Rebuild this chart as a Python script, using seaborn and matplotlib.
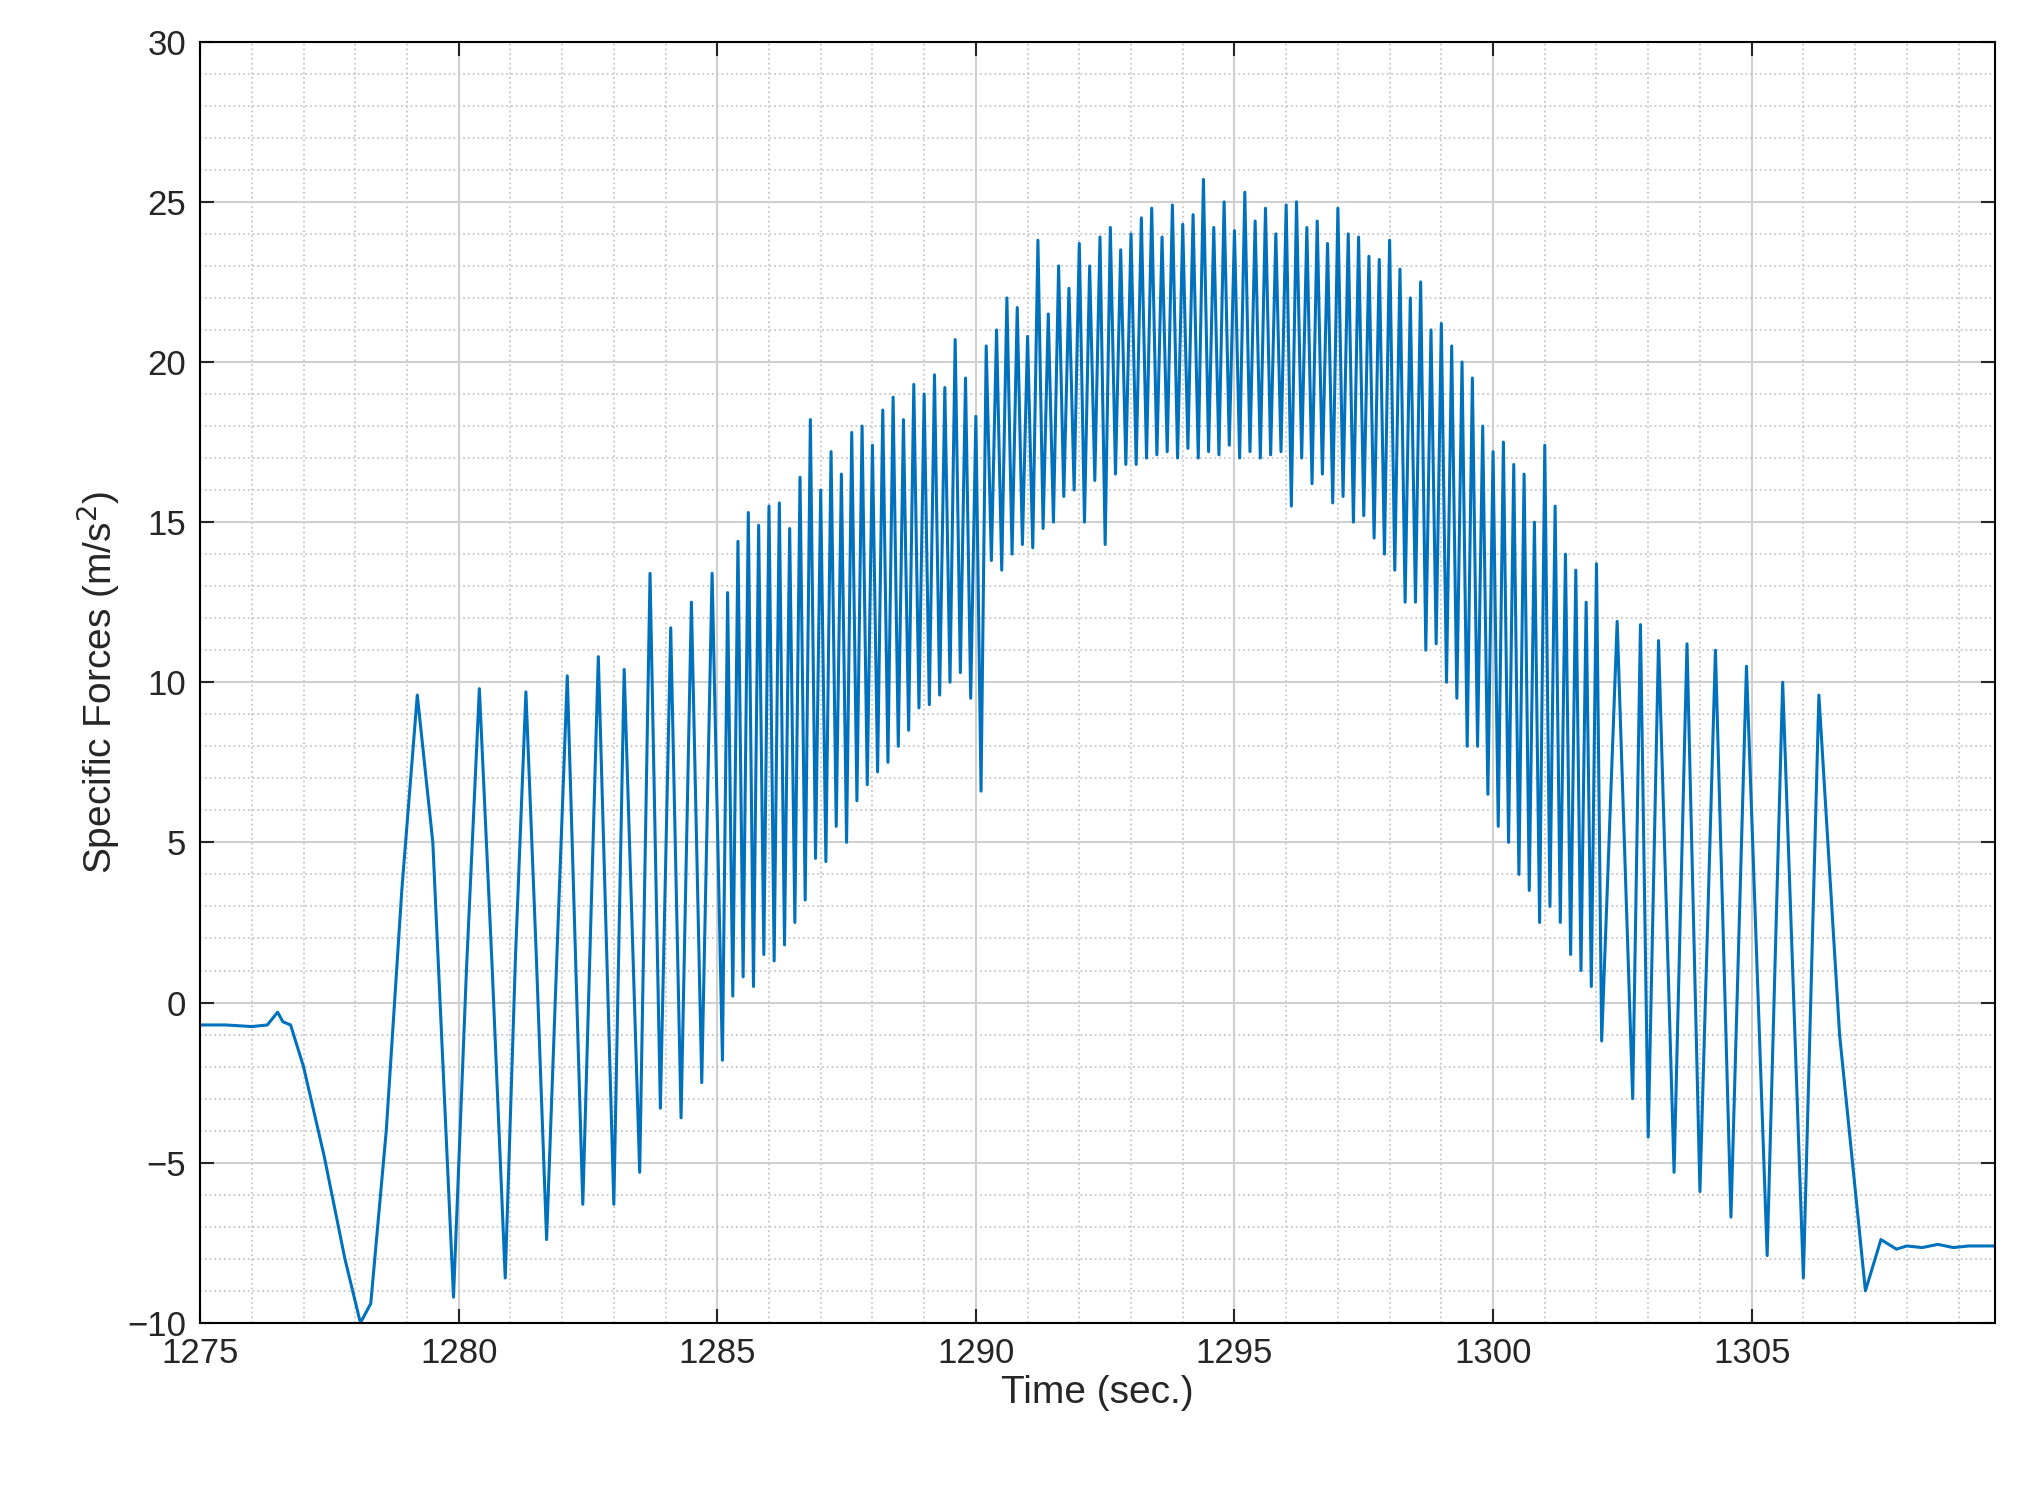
import numpy as np
import pandas as pd
import matplotlib
matplotlib.use("Agg")
import matplotlib.pyplot as plt
import seaborn as sns
from matplotlib.ticker import MultipleLocator

# Start segment (time, value)
start_t = [1275.0, 1275.5, 1276.0, 1276.3, 1276.5, 1276.6, 1276.75, 1277.0, 1277.4, 1277.8, 1278.1,
           1278.3, 1278.6, 1278.9, 1279.2, 1279.5, 1279.9, 1280.15, 1280.4, 1280.65, 1280.9, 1281.1,
           1281.3, 1281.5, 1281.7, 1281.9, 1282.1, 1282.4, 1282.7, 1283.0, 1283.2, 1283.5, 1283.7,
           1283.9, 1284.1, 1284.3, 1284.5, 1284.7, 1284.9, 1285.1]
start_v = [-0.7, -0.7, -0.75, -0.7, -0.3, -0.6, -0.7, -2.0, -4.8, -8.0, -10.0,
           -9.4, -4.0, 3.5, 9.6, 5.0, -9.2, 1.0, 9.8, 1.0, -8.6, 1.5,
           9.7, 1.5, -7.4, 1.5, 10.2, -6.3, 10.8, -6.3, 10.4, -5.3, 13.4,
           -3.3, 11.7, -3.6, 12.5, -2.5, 13.4, -1.8]

# Middle dense section: peaks at 1285.2 .. 1302.0 step 0.2, troughs 0.1 later
peak_t0, step = 1285.2, 0.2
peaks = [12.8, 14.4, 15.3, 14.9, 15.5, 15.6, 14.8, 16.4, 18.2, 16.0,
         17.2, 16.5, 17.8, 18.0, 17.4, 18.5, 18.9, 18.2, 19.3, 19.0,
         19.6, 19.2, 20.7, 19.5, 18.3, 20.5, 21.0, 22.0, 21.7, 20.8,
         23.8, 21.5, 23.0, 22.3, 23.7, 23.0, 23.9, 24.2, 23.5, 24.0,
         24.5, 24.8, 23.9, 24.9, 24.3, 24.6, 25.7, 24.2, 25.0, 24.1,
         25.3, 24.4, 24.8, 24.0, 24.9, 25.0, 24.2, 24.4, 23.7, 24.8,
         24.0, 23.9, 23.3, 23.2, 23.8, 22.9, 22.0, 22.5, 21.0, 21.2,
         20.5, 20.0, 19.5, 18.0, 17.2, 17.5, 16.8, 16.5, 15.0, 17.4,
         15.5, 14.0, 13.5, 12.5, 13.7]
troughs = [0.2, 0.8, 0.5, 1.5, 1.3, 1.8, 2.5, 3.2, 4.5, 4.4,
           5.5, 5.0, 6.3, 6.8, 7.2, 7.5, 8.0, 8.5, 9.2, 9.3,
           9.6, 10.0, 10.3, 9.5, 6.6, 13.8, 13.5, 14.0, 14.3, 14.2,
           14.8, 15.0, 15.8, 16.0, 15.0, 16.3, 14.3, 16.5, 16.8, 16.8,
           17.0, 17.1, 17.2, 17.0, 17.3, 17.0, 17.2, 17.1, 17.4, 17.0,
           17.2, 17.0, 17.1, 17.2, 15.5, 17.0, 16.2, 16.5, 15.6, 15.8,
           15.0, 15.2, 14.5, 14.0, 13.5, 12.5, 12.5, 11.0, 11.2, 10.0,
           9.5, 8.0, 8.0, 6.5, 5.5, 5.0, 4.0, 3.5, 2.5, 3.0,
           2.5, 1.5, 1.0, 0.5, -1.2]

# End segment
end_t = [1302.4, 1302.7, 1302.85, 1303.0, 1303.2, 1303.5, 1303.75, 1304.0, 1304.3, 1304.6,
         1304.9, 1305.3, 1305.6, 1306.0, 1306.3, 1306.7, 1307.2, 1307.5, 1307.8, 1308.0,
         1308.3, 1308.6, 1308.9, 1309.2, 1309.5, 1309.8]
end_v = [11.9, -3.0, 11.8, -4.2, 11.3, -5.3, 11.2, -5.9, 11.0, -6.7,
         10.5, -7.9, 10.0, -8.6, 9.6, -1.0, -9.0, -7.4, -7.7, -7.6,
         -7.65, -7.55, -7.65, -7.6, -7.6, -7.6]

mid_t, mid_v = [], []
for i, (p, q) in enumerate(zip(peaks, troughs)):
    mid_t += [peak_t0 + i * step, peak_t0 + i * step + step / 2]
    mid_v += [p, q]

df = pd.DataFrame({"t": start_t + mid_t + end_t, "v": start_v + mid_v + end_v})

sns.set_style("white")
plt.rcParams["font.family"] = ["Liberation Sans", "DejaVu Sans"]
fig = plt.figure(figsize=(20.21, 14.88), dpi=100)
ax = fig.add_axes([0.099, 0.111, 0.888, 0.861])
sns.lineplot(data=df, x="t", y="v", ax=ax, color="#0072BD", linewidth=2.2, sort=False)

ax.set_xlim(1275, 1309.7)
ax.set_ylim(-10, 30)
ax.xaxis.set_major_locator(MultipleLocator(5))
ax.yaxis.set_major_locator(MultipleLocator(5))
ax.xaxis.set_minor_locator(MultipleLocator(1))
ax.yaxis.set_minor_locator(MultipleLocator(1))
ax.grid(which="major", color="#d0d0d0", linewidth=1.5)
ax.grid(which="minor", color="#c8c8c8", linestyle=":", linewidth=1.3)
ax.set_axisbelow(True)
for s in ax.spines.values():
    s.set_color("black")
    s.set_linewidth(1.5)
ax.tick_params(which="major", direction="in", length=10, width=1.5, labelsize=25,
               top=True, right=True, bottom=True, left=True, pad=10)
ax.tick_params(which="minor", length=0)
ax.set_xlabel("Time (sec.)", fontsize=28)
ax.set_ylabel("Specific Forces (m/s$^2$)", fontsize=28)
fig.savefig("out.png", dpi=100)
